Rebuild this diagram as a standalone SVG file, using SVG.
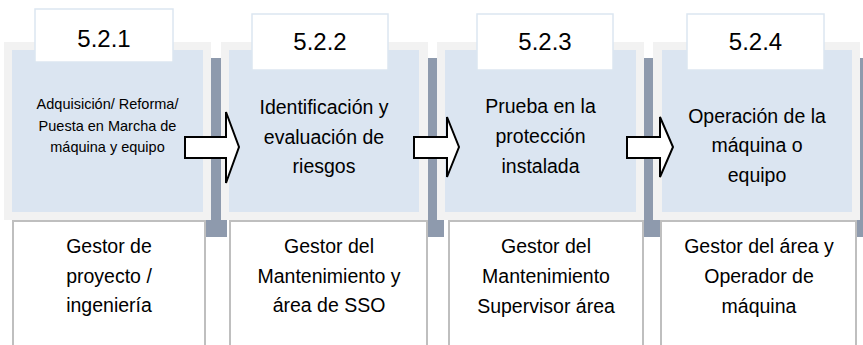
<svg xmlns="http://www.w3.org/2000/svg" width="863" height="345" viewBox="0 0 863 345">
<style>
.shadow{fill:#8e9aad}
.frame{fill:#f2f2f2}
.inner{fill:#dbe5f1}
.label{fill:#ffffff;stroke:#dce6f1;stroke-width:1.5}
.box{fill:#ffffff;stroke:#bfbfbf;stroke-width:2}
.num{font-family:"Liberation Sans",Arial,sans-serif;font-size:24px;fill:#000;text-anchor:middle}
.txt{font-family:"Liberation Sans",Arial,sans-serif;font-size:19.5px;fill:#000;text-anchor:middle}
.small{font-family:"Liberation Sans",Arial,sans-serif;font-size:14.5px;fill:#000;text-anchor:middle}
.arrow{fill:#ffffff;stroke:#000;stroke-width:2;stroke-linejoin:miter}
</style>
<rect width="863" height="345" fill="#ffffff"/>
<g id="step1">
<rect class="shadow" x="20" y="58" width="207" height="179"/>
<rect class="frame" x="4" y="42" width="207" height="178"/>
<rect class="inner" x="12" y="50" width="191" height="162"/>
<rect class="label" x="35" y="9" width="138" height="53"/>
<text class="num" x="104" y="47">5.2.1</text>
<text class="small" x="107.5" y="109">Adquisición/ Reforma/</text>
<text class="small" x="107.5" y="131">Puesta en Marcha de</text>
<text class="small" x="107.5" y="152">máquina y equipo</text>
<rect class="box" x="13" y="221" width="192" height="140"/>
<text class="txt" x="109" y="253">Gestor de</text>
<text class="txt" x="109" y="283">proyecto /</text>
<text class="txt" x="109" y="312">ingeniería</text>
</g>
<g id="step2">
<rect class="shadow" x="237" y="58" width="207" height="179"/>
<rect class="frame" x="221" y="42" width="207" height="178"/>
<rect class="inner" x="229" y="50" width="190" height="162"/>
<rect class="label" x="252" y="14" width="136" height="56"/>
<text class="num" x="320" y="50">5.2.2</text>
<text class="txt" x="324" y="114">Identificación y</text>
<text class="txt" x="324" y="144">evaluación de</text>
<text class="txt" x="324" y="173">riesgos</text>
<rect class="box" x="230" y="221" width="197" height="140"/>
<text class="txt" x="329" y="253">Gestor del</text>
<text class="txt" x="329" y="283">Mantenimiento y</text>
<text class="txt" x="329" y="312">área de SSO</text>
</g>
<g id="step3">
<rect class="shadow" x="453" y="58" width="207" height="179"/>
<rect class="frame" x="437" y="42" width="207" height="178"/>
<rect class="inner" x="445" y="50" width="191" height="162"/>
<rect class="label" x="477" y="14" width="136" height="56"/>
<text class="num" x="545" y="50">5.2.3</text>
<text class="txt" x="540.5" y="113">Prueba en la</text>
<text class="txt" x="540.5" y="143">protección</text>
<text class="txt" x="540.5" y="173">instalada</text>
<rect class="box" x="449" y="221" width="194" height="140"/>
<text class="txt" x="546" y="253">Gestor del</text>
<text class="txt" x="546" y="283">Mantenimiento</text>
<text class="txt" x="546" y="313">Supervisor área</text>
</g>
<g id="step4">
<rect class="shadow" x="669" y="58" width="207" height="179"/>
<rect class="frame" x="653" y="42" width="207" height="178"/>
<rect class="inner" x="662" y="50" width="190" height="162"/>
<rect class="label" x="687" y="14" width="137" height="56"/>
<text class="num" x="755.5" y="50">5.2.4</text>
<text class="txt" x="757" y="123">Operación de la</text>
<text class="txt" x="757" y="152">máquina o</text>
<text class="txt" x="757" y="182">equipo</text>
<rect class="box" x="661" y="221" width="195" height="140"/>
<text class="txt" x="759" y="253">Gestor del área y</text>
<text class="txt" x="759" y="283">Operador de</text>
<text class="txt" x="759" y="313">máquina</text>
</g>
<g id="connectors">
<path class="arrow" d="M185,137 H226 V112 L239,147 L226,183 V158 H185 Z"/>
<path class="arrow" d="M414,137 H447 V117 L459,147 L447,177 V158 H414 Z"/>
<path class="arrow" d="M627,137 H660 V117 L673,147 L660,177 V158 H627 Z"/>
</g>
</svg>
